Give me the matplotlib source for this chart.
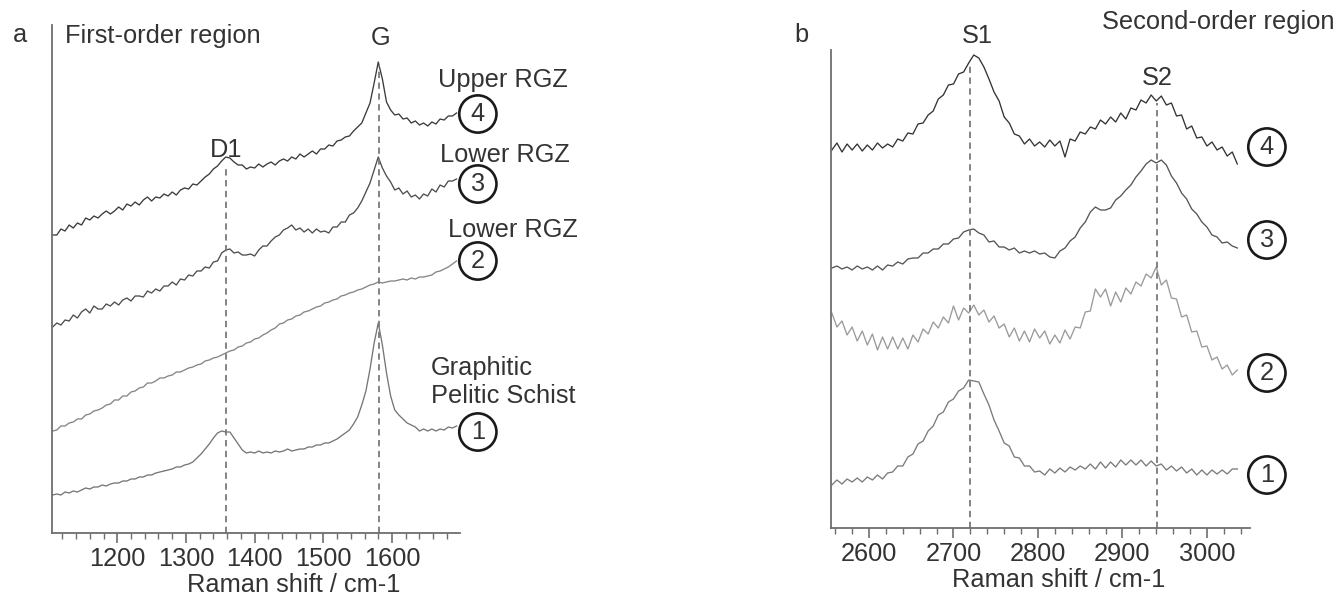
import numpy as np
import matplotlib
matplotlib.use("Agg")
import matplotlib.pyplot as plt
from matplotlib.ticker import MultipleLocator

plt.rcParams['font.family'] = ['Liberation Sans', 'DejaVu Sans']

# ---- first-order region (cm-1), intensities in arbitrary stacked units ----
shift_first = np.arange(1106, 1695, 6)

first_upper_rgz_4 = [
    298, 298, 304, 302, 308, 305, 310, 308, 315, 313,
    317, 315, 319, 322, 319, 322, 326, 323, 329, 327,
    331, 328, 333, 336, 332, 336, 335, 339, 337, 341,
    338, 343, 345, 344, 349, 348, 352, 356, 359, 364,
    367, 372, 376, 375, 371, 368, 368, 364, 366, 365,
    369, 366, 369, 371, 368, 372, 374, 372, 376, 374,
    379, 376, 379, 382, 379, 384, 384, 388, 387, 392,
    393, 396, 397, 402, 406, 410, 420, 430, 450, 471,
    454, 431, 423, 418, 419, 414, 415, 410, 412, 408,
    410, 407, 411, 409, 414, 413, 417, 417, 420]

first_lower_rgz_3 = [
    206, 210, 208, 213, 212, 218, 215, 221, 224, 220,
    227, 224, 224, 229, 227, 231, 228, 233, 235, 232,
    237, 237, 236, 242, 240, 244, 242, 247, 247, 251,
    248, 254, 253, 258, 257, 262, 262, 266, 265, 271,
    272, 280, 283, 284, 280, 281, 278, 278, 279, 277,
    283, 287, 287, 292, 296, 298, 303, 305, 308, 303,
    305, 301, 304, 300, 304, 301, 302, 300, 306, 306,
    311, 311, 318, 320, 325, 332, 341, 350, 363, 376,
    365, 357, 351, 343, 345, 339, 342, 336, 338, 334,
    339, 337, 344, 341, 348, 346, 352, 352, 354]

first_lower_rgz_2 = [
    102, 103, 107, 107, 110, 111, 114, 114, 118, 119,
    122, 123, 125, 128, 129, 133, 133, 137, 137, 141,
    142, 145, 146, 150, 150, 152, 155, 155, 157, 158,
    161, 161, 163, 165, 166, 168, 169, 172, 173, 175,
    176, 178, 180, 182, 183, 186, 187, 190, 191, 194,
    195, 198, 200, 203, 205, 209, 210, 213, 214, 217,
    218, 221, 222, 224, 226, 227, 230, 231, 233, 234,
    237, 238, 240, 241, 243, 244, 246, 248, 249, 251,
    250, 251, 252, 252, 253, 254, 253, 255, 254, 256,
    256, 257, 258, 261, 262, 264, 266, 269, 272]

first_graphitic_1 = [
    38, 39, 38, 41, 40, 42, 41, 43, 45, 44,
    46, 46, 48, 47, 49, 50, 50, 52, 52, 54,
    54, 56, 56, 58, 58, 60, 61, 62, 63, 64,
    66, 66, 68, 69, 71, 75, 79, 84, 89, 95,
    100, 102, 101, 101, 95, 89, 83, 80, 81, 80,
    82, 80, 81, 80, 82, 81, 82, 84, 82, 83,
    84, 84, 86, 86, 88, 88, 90, 90, 92, 94,
    97, 100, 103, 109, 116, 128, 142, 164, 190, 210,
    188, 160, 137, 123, 118, 114, 110, 108, 106, 102,
    104, 102, 104, 102, 104, 103, 106, 105, 107]

# ---- second-order region ----
shift_second = np.arange(2556, 3037, 6)

second_upper_rgz_4 = [
    378, 385, 376, 384, 378, 384, 377, 383, 378, 385,
    380, 384, 381, 389, 387, 395, 394, 404, 405, 413,
    417, 429, 433, 443, 444, 454, 456, 465, 473, 470,
    461, 449, 436, 427, 411, 405, 394, 392, 384, 389,
    382, 386, 381, 388, 382, 387, 371, 389, 387, 396,
    394, 401, 399, 408, 404, 411, 406, 415, 409, 420,
    418, 428, 425, 433, 427, 432, 423, 425, 412, 413,
    399, 402, 390, 391, 382, 386, 378, 381, 372, 376,
    364]

second_lower_rgz_3 = [
    260, 262, 259, 261, 258, 262, 259, 261, 258, 262,
    258, 263, 262, 266, 264, 269, 270, 270, 275, 275,
    279, 279, 284, 284, 289, 290, 296, 298, 299, 295,
    293, 286, 287, 281, 281, 278, 280, 275, 277, 275,
    277, 274, 275, 271, 270, 277, 280, 287, 291, 300,
    306, 316, 321, 318, 318, 320, 328, 332, 338, 343,
    351, 357, 364, 368, 365, 368, 363, 352, 345, 335,
    329, 319, 314, 306, 301, 293, 291, 285, 286, 282,
    280]

second_lower_rgz_2 = [
    215, 201, 207, 193, 201, 187, 197, 183, 194, 178,
    191, 179, 191, 179, 190, 179, 193, 186, 199, 194,
    206, 200, 211, 205, 222, 208, 220, 215, 223, 213,
    218, 206, 212, 200, 204, 191, 200, 187, 197, 186,
    199, 190, 197, 184, 193, 185, 198, 189, 201, 200,
    216, 217, 239, 231, 239, 222, 236, 226, 240, 234,
    246, 242, 254, 250, 261, 243, 248, 230, 229, 211,
    213, 196, 197, 181, 182, 168, 171, 159, 163, 153,
    158]

second_graphitic_1 = [
    43, 48, 44, 49, 46, 50, 46, 51, 48, 53,
    49, 55, 56, 62, 62, 71, 74, 84, 87, 97,
    102, 113, 116, 126, 129, 137, 140, 148, 147, 146,
    134, 123, 108, 97, 85, 82, 71, 70, 62, 62,
    56, 57, 53, 59, 55, 60, 56, 61, 58, 62,
    59, 64, 59, 66, 60, 66, 61, 68, 63, 68,
    63, 68, 62, 67, 62, 64, 58, 62, 57, 61,
    55, 59, 53, 58, 53, 58, 54, 58, 54, 59,
    59]

# band positions (cm-1) and where their marker lines start
band_d1, band_g = 1358, 1581
band_s1, band_s2 = 2720, 2941

W, H = 1337, 598
fig = plt.figure(figsize=(W / 100, H / 100), dpi=100)

ax_a = fig.add_axes([52 / W, 65 / H, 408 / W, 508 / H])
ax_b = fig.add_axes([831 / W, 70 / H, 419 / W, 478 / H])

TXT = '#333333'
AXC = '#6e6e6e'
FS = 18.3


def style_axis(ax, xlim, ylim, majors):
    ax.set_xlim(*xlim)
    ax.set_ylim(*ylim)
    for s in ('top', 'right'):
        ax.spines[s].set_visible(False)
    for s in ('left', 'bottom'):
        ax.spines[s].set_color(AXC)
        ax.spines[s].set_linewidth(1.3)
    ax.set_yticks([])
    ax.set_xticks(majors)
    ax.xaxis.set_minor_locator(MultipleLocator(20))
    ax.tick_params(axis='x', which='major', direction='out', length=7,
                   width=1.2, color=AXC, labelsize=FS, labelcolor=TXT, pad=3)
    ax.tick_params(axis='x', which='minor', direction='out', length=4,
                   width=1.0, color=AXC)


style_axis(ax_a, (1105, 1699), (0, 508), [1200, 1300, 1400, 1500, 1600])
style_axis(ax_b, (2555, 3051), (0, 478), [2600, 2700, 2800, 2900, 3000])

circle_box = dict(boxstyle='circle,pad=0.26', fc='white', ec='#1a1a1a', lw=1.9)

# ---- panel a ----
series_a = [
    (first_upper_rgz_4, '#3a3a3a'),
    (first_lower_rgz_3, '#4d4d4d'),
    (first_lower_rgz_2, '#858585'),
    (first_graphitic_1, '#767676'),
]
for vals, col in series_a:
    ax_a.plot(shift_first, vals, color=col, lw=0.95)

ax_a.plot([band_d1, band_d1], [0, 368], ls=(0, (3.5, 2.5)), color='#7a7a7a', lw=1.3)
ax_a.plot([band_g, band_g], [0, 468], ls=(0, (3.5, 2.5)), color='#7a7a7a', lw=1.3)
ax_a.text(band_d1, 376, 'D1', ha='center', va='baseline', fontsize=FS, color=TXT)
ax_a.text(band_g + 3, 488, 'G', ha='center', va='baseline', fontsize=FS, color=TXT,
          clip_on=False)

for num, y in (('4', 419), ('3', 349), ('2', 272), ('1', 101)):
    ax_a.text(1725, y, num, ha='center', va='center', fontsize=FS, color=TXT,
              bbox=circle_box, clip_on=False)
ax_a.text(1762, 446, 'Upper RGZ', ha='center', va='baseline', fontsize=FS,
          color=TXT, clip_on=False)
ax_a.text(1764, 371, 'Lower RGZ', ha='center', va='baseline', fontsize=FS,
          color=TXT, clip_on=False)
ax_a.text(1776, 296, 'Lower RGZ', ha='center', va='baseline', fontsize=FS,
          color=TXT, clip_on=False)
ax_a.text(1657, 158, 'Graphitic', ha='left', va='baseline', fontsize=FS,
          color=TXT, clip_on=False)
ax_a.text(1657, 130, 'Pelitic Schist', ha='left', va='baseline', fontsize=FS,
          color=TXT, clip_on=False)

# ---- panel b ----
series_b = [
    (second_upper_rgz_4, '#333333'),
    (second_lower_rgz_3, '#555555'),
    (second_lower_rgz_2, '#9a9a9a'),
    (second_graphitic_1, '#7a7a7a'),
]
for vals, col in series_b:
    ax_b.plot(shift_second, vals, color=col, lw=0.95)

ax_b.plot([band_s1, band_s1], [0, 465], ls=(0, (3.5, 2.5)), color='#7a7a7a', lw=1.3)
ax_b.plot([band_s2, band_s2], [0, 425], ls=(0, (3.5, 2.5)), color='#7a7a7a', lw=1.3)
ax_b.text(band_s1 + 8, 485, 'S1', ha='center', va='baseline', fontsize=FS,
          color=TXT, clip_on=False)
ax_b.text(band_s2, 443, 'S2', ha='center', va='baseline', fontsize=FS, color=TXT)

for num, y in (('4', 381), ('3', 288), ('2', 155), ('1', 53)):
    ax_b.text(3071, y, num, ha='center', va='center', fontsize=FS, color=TXT,
              bbox=circle_box, clip_on=False)

# ---- panel letters, region titles and axis titles ----
fig.text(20 / W, 1 - 42 / H, 'a', ha='center', va='baseline', fontsize=FS, color=TXT)
fig.text(65 / W, 1 - 43 / H, 'First-order region', ha='left', va='baseline',
         fontsize=FS, color=TXT)
fig.text(801 / W, 1 - 42 / H, 'b', ha='center', va='baseline', fontsize=FS, color=TXT)
fig.text(1102 / W, 1 - 29 / H, 'Second-order region', ha='left', va='baseline',
         fontsize=FS, color=TXT)
fig.text(294 / W, 1 - 592 / H, 'Raman shift / cm-1', ha='center', va='baseline',
         fontsize=FS, color=TXT)
fig.text(1059 / W, 1 - 587 / H, 'Raman shift / cm-1', ha='center', va='baseline',
         fontsize=FS, color=TXT)

fig.savefig('out.png', dpi=100, facecolor='white')
